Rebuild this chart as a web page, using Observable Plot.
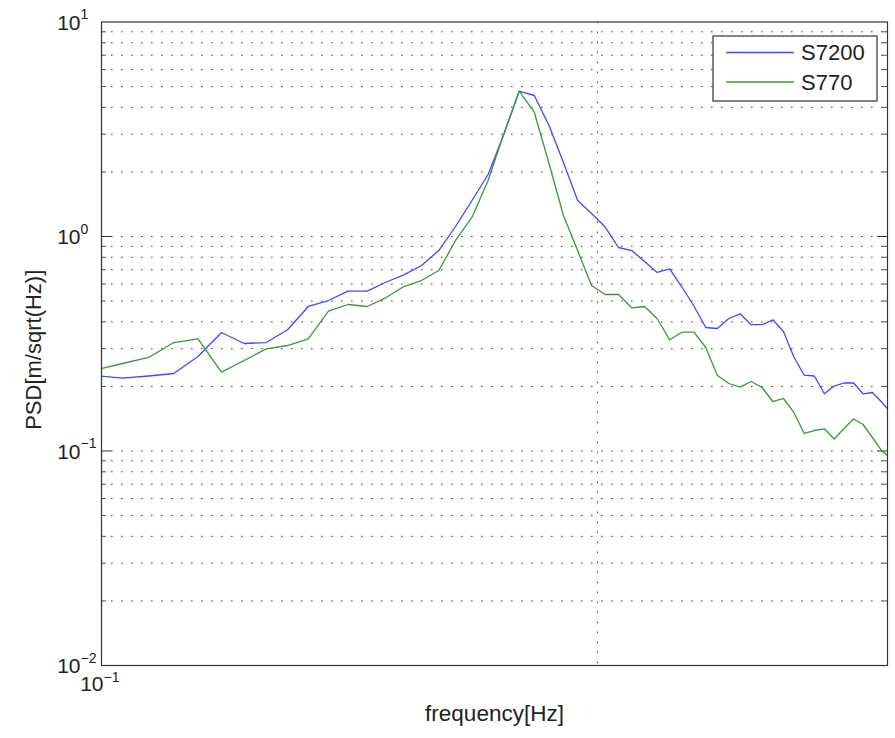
<!DOCTYPE html>
<html>
<head>
<meta charset="utf-8">
<script src="https://cdn.jsdelivr.net/npm/d3@7"></script>
<script src="https://cdn.jsdelivr.net/npm/@observablehq/plot@0.6"></script>
<style>
  html, body { margin: 0; padding: 0; background: #fff; }
  #chart { width: 895px; height: 738px; }
  svg { font-family: "Liberation Sans", Arial, Helvetica, sans-serif; }
</style>
</head>
<body>
<div id="chart"></div>
<script>
// Frequency bins (Hz) of the spectral estimate
const frequency = [
  0.09918, 0.10300, 0.10681, 0.11063, 0.11444, 0.11826, 0.12207, 0.12589, 0.12970, 0.13351,
  0.13733, 0.14114, 0.14496, 0.14877, 0.15259, 0.15640, 0.16022, 0.16403, 0.16785, 0.17166,
  0.17548, 0.17929, 0.18311, 0.18692, 0.19073, 0.19455, 0.19836, 0.20218, 0.20599, 0.20981,
  0.21362, 0.21744, 0.22125, 0.22507, 0.22888, 0.23270, 0.23651, 0.24033, 0.24414, 0.24796,
  0.25177, 0.25558, 0.25940, 0.26321, 0.26703, 0.27084, 0.27466, 0.27847, 0.28229, 0.28610,
  0.28992, 0.29373, 0.29755, 0.30136
];

// PSD [m/sqrt(Hz)] for sensor S7200
const psdS7200 = [
  0.2249, 0.2185, 0.2237, 0.2298, 0.2758, 0.3568, 0.3170, 0.3204, 0.3673, 0.4718,
  0.5029, 0.5559, 0.5559, 0.6121, 0.6627, 0.7324, 0.8603, 1.1133, 1.4720, 1.9454,
  2.989, 4.757, 4.543, 3.293, 2.213, 1.472, 1.280, 1.107, 0.8886, 0.8603,
  0.7646, 0.6795, 0.7071, 0.5814, 0.4742, 0.3765, 0.3725, 0.4147, 0.4361, 0.3879,
  0.3879, 0.4089, 0.3607, 0.2743, 0.2256, 0.2237, 0.1848, 0.2009, 0.2075, 0.2075,
  0.1848, 0.1874, 0.1692, 0.1512
];

// PSD [m/sqrt(Hz)] for sensor S770
const psdS770 = [
  0.2386, 0.2558, 0.2729, 0.3204, 0.3334, 0.2330, 0.2642, 0.2995, 0.3103, 0.3334,
  0.4484, 0.4819, 0.4717, 0.5179, 0.5845, 0.6234, 0.6943, 0.9580, 1.2302, 1.8242,
  3.012, 4.757, 3.797, 2.189, 1.253, 0.8603, 0.5908, 0.5366, 0.5366, 0.4652,
  0.4717, 0.4134, 0.3299, 0.3579, 0.3579, 0.3037, 0.2249, 0.2064, 0.1984, 0.2109,
  0.1977, 0.1701, 0.1757, 0.1512, 0.1207, 0.1246, 0.1269, 0.1137, 0.1273, 0.1410,
  0.1329, 0.1156, 0.1005, 0.0923
];

const seriesNames = ["S7200", "S770"];
const seriesColors = ["#4646ff", "#3a983a"];

// Axis ticks (decades) and their exponent labels
const yTickValues = [0.01, 0.1, 1, 10];
const yTickExponents = ["\u22122", "\u22121", "0", "1"];
const xTickValues = [0.1];
const xTickExponents = ["\u22121"];
const xGridValues = [0.2];

const xDomain = [0.1, 0.3];
const yDomain = [0.01, 10];

const W = 895, H = 738;
const M = {top: 21.5, right: 8, bottom: 73, left: 101};
const innerW = W - M.left - M.right;

// Minor log grid: 2..9 times each decade
const yGrid = [];
for (let k = 0; k < yTickValues.length - 1; ++k) {
  for (let m = 1; m <= 9; ++m) {
    const v = yTickValues[k] * m;
    if (v > yDomain[0]) yGrid.push(v);
  }
}
const yMinor = yGrid.filter(v => !yTickValues.includes(v));
const yMajorInside = yTickValues.filter(v => v > yDomain[0] && v < yDomain[1]);

const rows = [];
frequency.forEach((f, i) => {
  rows.push({f, v: psdS7200[i], s: seriesNames[0]});
  rows.push({f, v: psdS770[i], s: seriesNames[1]});
});

const textColor = "#222";
const gridStyle = {stroke: "#000", strokeOpacity: 0.75, strokeWidth: 1, strokeDasharray: "1.6,8.4"};

const chart = Plot.plot({
  width: W,
  height: H,
  marginTop: M.top,
  marginRight: M.right,
  marginBottom: M.bottom,
  marginLeft: M.left,
  style: {background: "#fff", color: textColor, fontFamily: "'Liberation Sans', Arial, sans-serif"},
  x: {type: "log", domain: xDomain, axis: null},
  y: {type: "log", domain: yDomain, axis: null},
  color: {domain: seriesNames, range: seriesColors},
  marks: [
    // dotted grid
    Plot.ruleY(yGrid, {y: d => d, ...gridStyle}),
    Plot.ruleX(xGridValues, {x: d => d, ...gridStyle}),
    // inward tick marks on left and right
    Plot.tickY(yMajorInside, {y: d => d, stroke: "#333", insetRight: innerW - 10}),
    Plot.tickY(yMajorInside, {y: d => d, stroke: "#333", insetLeft: innerW - 10}),
    Plot.tickY(yMinor, {y: d => d, stroke: "#555", insetRight: innerW - 5}),
    Plot.tickY(yMinor, {y: d => d, stroke: "#555", insetLeft: innerW - 5}),
    // spectra
    Plot.line(rows, {x: "f", y: "v", z: "s", stroke: "s", strokeWidth: 1.3, clip: true}),
    Plot.frame({stroke: "#333", strokeWidth: 1.2}),
    // y tick labels: 10 with superscript exponent
    Plot.text(yTickValues, {y: d => d, frameAnchor: "left", text: () => "10", textAnchor: "end",
      dx: -21, dy: 1, fontSize: 21, fill: textColor}),
    Plot.text(yTickValues, {y: d => d, frameAnchor: "left", text: (d, i) => yTickExponents[i],
      textAnchor: "start", dx: -21, dy: -7, fontSize: 14, fill: textColor}),
    // x tick labels
    Plot.text(xTickValues, {x: d => d, frameAnchor: "bottom", text: () => "10", textAnchor: "end",
      dx: 2, dy: 25, fontSize: 21, fill: textColor}),
    Plot.text(xTickValues, {x: d => d, frameAnchor: "bottom", text: (d, i) => xTickExponents[i],
      textAnchor: "start", dx: 2, dy: 16, fontSize: 14, fill: textColor}),
    // axis titles
    Plot.text(["PSD[m/sqrt(Hz)]"], {frameAnchor: "left", text: d => d, rotate: -90, dx: -68, dy: 6,
      textAnchor: "middle", fontSize: 22, fill: textColor}),
    Plot.text(["frequency[Hz]"], {frameAnchor: "bottom", text: d => d, dy: 55,
      textAnchor: "middle", fontSize: 22.5, fill: textColor})
  ]
});

// Legend box in the upper right corner of the axes
const svg = d3.select(chart);
const lg = svg.append("g").attr("transform", "translate(713,36)");
lg.append("rect").attr("width", 164).attr("height", 65)
  .attr("fill", "#fff").attr("stroke", "#333").attr("stroke-width", 1.2);
seriesNames.forEach((name, i) => {
  const y = 16.5 + i * 29.5;
  lg.append("line").attr("x1", 13).attr("x2", 81).attr("y1", y).attr("y2", y)
    .attr("stroke", seriesColors[i]).attr("stroke-width", 1.3);
  lg.append("text").attr("x", 88).attr("y", y).attr("dy", "0.35em")
    .attr("text-anchor", "start")
    .attr("font-size", 22).attr("fill", textColor).text(name);
});

document.getElementById("chart").appendChild(chart);
</script>
</body>
</html>
